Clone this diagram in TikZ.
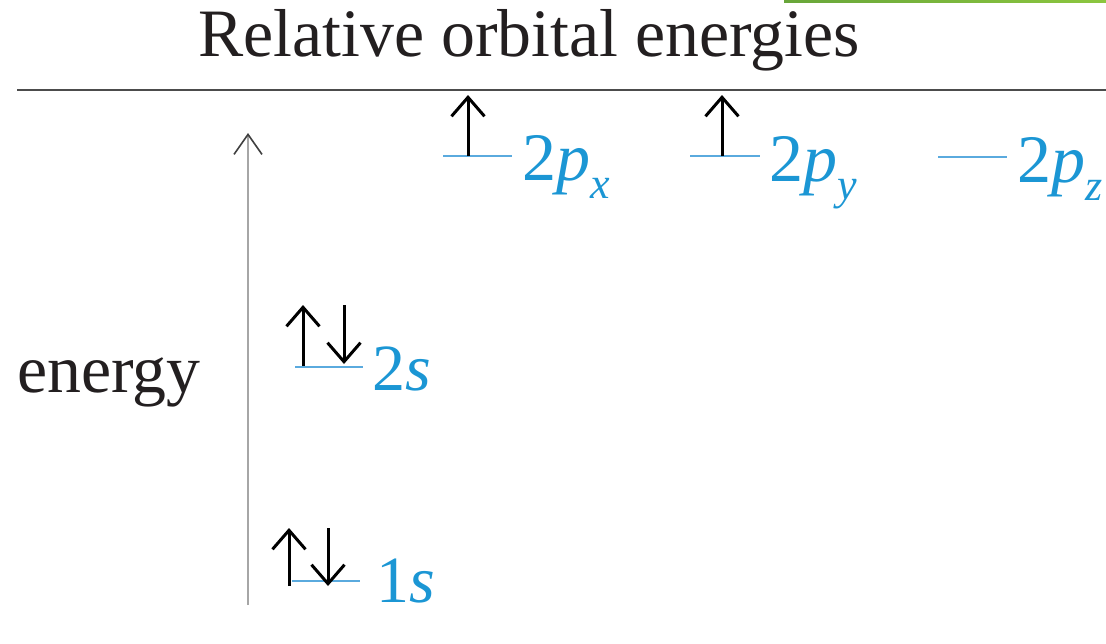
\documentclass[tikz,border=0pt]{standalone}
\usepackage{fontspec}
\setmainfont{Liberation Serif}
\usetikzlibrary{arrows.meta}
\definecolor{orb}{RGB}{27,150,212}
\definecolor{orbline}{RGB}{90,170,222}
\definecolor{ink}{RGB}{35,31,32}
\definecolor{gA}{RGB}{104,166,58}
\definecolor{gB}{RGB}{140,198,63}
\newcommand\orbsub[1]{\raisebox{-18pt}{\fontsize{44}{44}\selectfont\textit{#1}}}
\begin{document}
\begin{tikzpicture}[x=1pt,y=-1pt,
  titletext/.style={anchor=base west,inner sep=0,text=ink,font=\fontsize{67.8}{68}\selectfont},
  lbl/.style={anchor=base west,inner sep=0,text=orb,font=\fontsize{68}{68}\selectfont},
  slbl/.style={anchor=base west,inner sep=0,text=orb,font=\fontsize{66}{66}\selectfont},
  level/.style={draw=orbline,line width=1.6},
  spin/.style={draw=black,line width=3,-{Straight Barb[length=19pt,width=33pt,line width=3pt]}},
  axisline/.style={draw=black!35,line width=2,-{Straight Barb[length=20pt,width=28pt,line width=1.6pt,color=black!75]}},
  rule/.style={draw=black!70,line width=2.4}]
\useasboundingbox (0,0) rectangle (1106,643);
% green band at top
\shade[left color=gA,right color=gB] (784,0) rectangle (1106,2.2);
% title and rule
\node[titletext] (title) at (198,56) {Relative orbital energies};
\coordinate (rl) at (17,90);
\coordinate (rr) at (1106,90);
\draw[rule] (rl) -- (rr);
% energy axis
\node[titletext] (energy) at (17,392) {energy};
\coordinate (axb) at (248,605);
\coordinate (axt) at (248,133);
\draw[axisline] (axb) -- (axt);
% 2px
\coordinate (pxl) at (443,156); \coordinate (pxr) at (512,156);
\draw[level] (pxl) -- (pxr);
\coordinate (pxa) at (468,156); \coordinate (pxb) at (468,95);
\draw[spin] (pxa) -- (pxb);
\node[lbl] (px) at (522,180) {2\textit{p}\orbsub{x}};
% 2py
\coordinate (pyl) at (690,156); \coordinate (pyr) at (760,156);
\draw[level] (pyl) -- (pyr);
\coordinate (pya) at (722,156); \coordinate (pyb) at (722,95);
\draw[spin] (pya) -- (pyb);
\node[lbl] (py) at (769,181) {2\textit{p}\orbsub{y}};
% 2pz
\coordinate (pzl) at (938,157); \coordinate (pzr) at (1007,157);
\draw[level] (pzl) -- (pzr);
\node[lbl] (pz) at (1017,182) {2\textit{p}\orbsub{z}};
% 2s
\coordinate (sl2) at (295,367); \coordinate (sr2) at (363,367);
\draw[level] (sl2) -- (sr2);
\coordinate (s2ua) at (303,366); \coordinate (s2ub) at (303,305);
\draw[spin] (s2ua) -- (s2ub);
\coordinate (s2da) at (344,305); \coordinate (s2db) at (344,364);
\draw[spin] (s2da) -- (s2db);
\node[slbl] (s2) at (372,390) {2\textit{s}};
% 1s
\coordinate (sl1) at (292,581); \coordinate (sr1) at (360,581);
\draw[level] (sl1) -- (sr1);
\coordinate (s1ua) at (289,586); \coordinate (s1ub) at (289,528);
\draw[spin] (s1ua) -- (s1ub);
\coordinate (s1da) at (328,528); \coordinate (s1db) at (328,586);
\draw[spin] (s1da) -- (s1db);
\node[slbl] (s1) at (376,602) {1\textit{s}};
\end{tikzpicture}
\end{document}
